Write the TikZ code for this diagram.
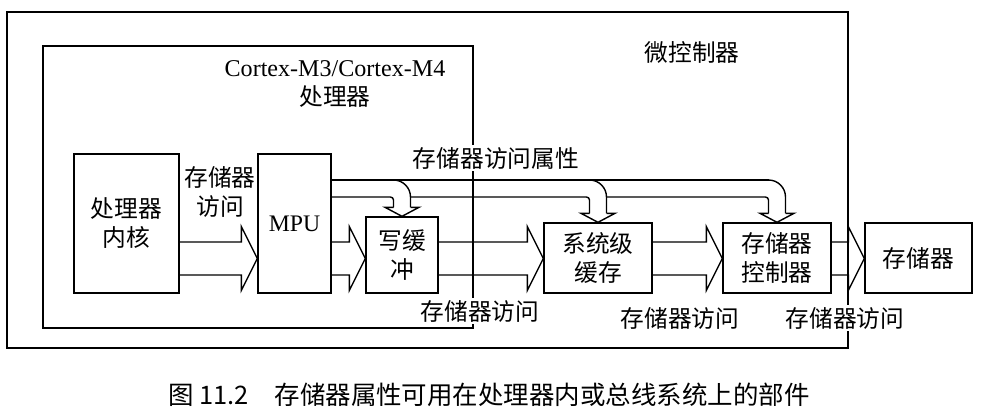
\documentclass[tikz,border=0pt]{standalone}
\usepackage{fontspec}
\setmainfont{Liberation Serif}
\newfontfamily\cjk{Noto Sans CJK SC}
\usepackage{tikz}
\usetikzlibrary{calc}
\tikzstyle{frame} = [line width=0.8pt]
\tikzstyle{fat} = [line width=0.8pt]
\tikzstyle{unit} = [draw,line width=0.8pt,rectangle,inner sep=0,align=center,font=\cjk\fontsize{13.5}{16.5}\selectfont]
\tikzstyle{lbl} = [align=center,inner sep=1pt,font=\cjk\fontsize{13.5}{16.5}\selectfont]
\def \fs {16.5}
\def \fw {32}
\def \fl {16}
\def \bw {8.5}
\def \bh {17}
\def \bl {9}
\newcommand{\fatarrow}[2]{%
  \draw[fat] ($(#1.east |- lane)+(0,-\fs)$) -| ($(#2.west |- lane)+(-\fl,-\fw)$)
    -- (#2.west |- lane) -- ($(#2.west |- lane)+(-\fl,\fw)$) |- ($(#1.east |- lane)+(0,\fs)$);}
\newcommand{\branch}[2]{%
  \draw[fat,rounded corners=0.34cm] ($(#1.north |- top)+(-\bw,0)$) -| ($(#1.north)+(\bw,-\bl)$);
  \draw[fat] ($(#1.north)+(\bw,-\bl)$) -- ($(#1.north)+(\bh,-\bl)$) -- (#1.north)
    -- ($(#1.north)+(-\bh,-\bl)$) -- ($(#1.north)+(-\bw,-\bl)$);
  \draw[fat,rounded corners=0.06cm] (#2) -| ($(#1.north)+(-\bw,-\bl)$);}

\begin{document}
\begin{tikzpicture}[x=0.02cm,y=-0.02cm]
  \useasboundingbox (0,0) rectangle (984,417);
  % frames
  \draw[frame] (7,12) rectangle (848,348);
  \draw[frame] (43,46) rectangle (473,328);
  \node[lbl] (mcu) at (692,52) {微控制器};
  \node[lbl] (cpu) at (335,84) {{\rmfamily\fontsize{13.7}{16}\selectfont Cortex-M3/Cortex-M4}\\处理器};
  % units
  \node[unit,minimum width=2.1cm,minimum height=2.78cm] (core) at (126.5,223.5) {处理器\\内核};
  \node[unit,minimum width=1.46cm,minimum height=2.78cm] (mpu) at (294.5,223.5) {\rmfamily MPU};
  \node[unit,minimum width=1.44cm,minimum height=1.52cm] (wb) at (402,255) {写缓\\冲};
  \node[unit,minimum width=2.16cm,minimum height=1.4cm] (sc) at (598,258) {系统级\\缓存};
  \node[unit,minimum width=2.16cm,minimum height=1.4cm] (mc) at (777,258) {存储器\\控制器};
  \node[unit,minimum width=2.14cm,minimum height=1.4cm] (mem) at (918.5,258) {存储器};
  \coordinate (lane) at (0,258.5);
  \coordinate (top) at (0,180);
  \coordinate (bot) at (0,197);
  % memory access
  \fatarrow{core}{mpu}
  \fatarrow{mpu}{wb}
  \fatarrow{wb}{sc}
  \fatarrow{sc}{mc}
  \fatarrow{mc}{mem}
  % access attributes
  \draw[fat] (mpu.east |- top) -- ($(mc.north |- top)+(-\bw,0)$);
  \branch{wb}{mpu.east |- bot}
  \branch{sc}{$(wb.north |- bot)+(\bw,0)$}
  \branch{mc}{$(sc.north |- bot)+(\bw,0)$}
  % labels
  \node[lbl,fill=white] (attr) at (496,158) {存储器访问属性};
  \node[lbl] (acc0) at (220,192) {存储器\\访问};
  \node[lbl,fill=white] (acc1) at (480,311) {存储器访问};
  \node[lbl,fill=white] (acc2) at (680,318) {存储器访问};
  \node[lbl,fill=white] (acc3) at (845,318) {存储器访问};
  \node[font=\cjk\fontsize{14.5}{17}\selectfont] (cap) at (489,395) {图 11.2\quad 存储器属性可用在处理器内或总线系统上的部件};
\end{tikzpicture}
\end{document}
